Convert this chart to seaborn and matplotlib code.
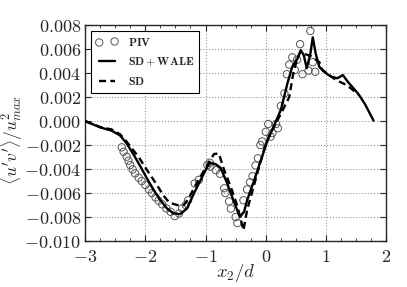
import numpy as np
import pandas as pd
import matplotlib
matplotlib.use('Agg')
import matplotlib.pyplot as plt
import seaborn as sns
from matplotlib.ticker import FuncFormatter, MultipleLocator

# SD + WALE (solid)
wale_x = [-3.0, -2.75, -2.56, -2.42, -2.31, -2.19, -2.08, -1.97, -1.86, -1.75, -1.64, -1.53,
          -1.42, -1.31, -1.19, -1.08, -0.97, -0.92, -0.83, -0.75, -0.64, -0.53, -0.43, -0.36,
          -0.31, -0.19, -0.08, 0.03, 0.11, 0.25, 0.36, 0.44, 0.53, 0.58, 0.63, 0.68, 0.74,
          0.78, 0.83, 0.89, 0.97, 1.08, 1.19, 1.28, 1.36, 1.53, 1.64, 1.79]
wale_y = [0.0, -0.00053, -0.0008, -0.0012, -0.00186, -0.00283, -0.0038, -0.0048, -0.00575,
          -0.0066, -0.00728, -0.0077, -0.00775, -0.0073, -0.006, -0.0049, -0.0038, -0.00348,
          -0.0036, -0.0039, -0.0052, -0.0067, -0.0080, -0.00755, -0.0066, -0.0049, -0.00325,
          -0.0016, -0.0007, 0.00092, 0.00314, 0.00453, 0.00522, 0.0059, 0.0055, 0.0044, 0.0056,
          0.00697, 0.0056, 0.0045, 0.0041, 0.0037, 0.00356, 0.00383, 0.00328, 0.0023, 0.00147,
          0.00003]

# SD (dashed)
sd_x = [-3.0, -2.75, -2.56, -2.42, -2.31, -2.11, -1.97, -1.81, -1.7, -1.6, -1.47, -1.36,
        -1.28, -1.15, -1.0, -0.86, -0.78, -0.69, -0.58, -0.47, -0.37, -0.31, -0.22, -0.11,
        0.0, 0.08, 0.25, 0.39, 0.45, 0.52, 0.58, 0.64, 0.75, 0.89, 0.94, 1.17, 1.3, 1.42, 1.53]
sd_y = [0.0, -0.0005, -0.0007, -0.0011, -0.00172, -0.003, -0.0041, -0.0053, -0.0062, -0.0068,
        -0.0070, -0.0070, -0.00644, -0.0052, -0.0039, -0.00275, -0.0027, -0.0041, -0.0055,
        -0.0071, -0.0091, -0.0074, -0.0058, -0.0038, -0.0019, -0.0010, 0.0006, 0.0020, 0.0038,
        0.0052, 0.0058, 0.0056, 0.0054, 0.0049, 0.00425, 0.0034, 0.0031, 0.0027, 0.0022]

# PIV (circles)
piv_x = [-2.39, -2.36, -2.31, -2.28, -2.25, -2.21, -2.17, -2.11, -2.06, -2.0, -1.94, -1.89,
         -1.83, -1.78, -1.72, -1.65, -1.58, -1.51, -1.44, -1.39, -1.33, -1.29, -1.18, -1.11,
         -0.97, -0.93, -0.92, -0.83, -0.76, -0.69, -0.67, -0.61, -0.58, -0.5, -0.47, -0.37,
         -0.31, -0.26, -0.22, -0.17, -0.13, -0.09, -0.06, 0.0, 0.04, 0.08, 0.11, 0.17, 0.2,
         0.25, 0.31, 0.35, 0.39, 0.44, 0.48, 0.52, 0.57, 0.61, 0.71, 0.74, 0.78, 0.82]
piv_y = [-0.00219, -0.00256, -0.00297, -0.0033, -0.00367, -0.00403, -0.00436, -0.00472, -0.005,
         -0.00533, -0.0057, -0.006, -0.00636, -0.00664, -0.00694, -0.00728, -0.00756, -0.00792,
         -0.0077, -0.00728, -0.0070, -0.0066, -0.0052, -0.0049, -0.00367, -0.00347, -0.0038,
         -0.0041, -0.0044, -0.0056, -0.0060, -0.0067, -0.0073, -0.0080, -0.0085, -0.0066,
         -0.0057, -0.0051, -0.0046, -0.0037, -0.0031, -0.0020, -0.0017, -0.0009, -0.00025,
         -0.0013, -0.0010, -0.00025, -0.0006, 0.00125, 0.0023, 0.0039, 0.0047, 0.0053, 0.00425,
         0.0051, 0.0064, 0.0039, 0.0042, 0.0075, 0.0049, 0.0041]

sns.set_style('ticks')
plt.rcParams['font.family'] = ['DejaVu Serif']
plt.rcParams['mathtext.fontset'] = 'cm'

fig = plt.figure(figsize=(4.07, 2.87), dpi=100)
ax = fig.add_axes([0.209, 0.160, 0.740, 0.753])

piv = pd.DataFrame({'x': piv_x, 'y': piv_y})
wale = pd.DataFrame({'x': wale_x, 'y': wale_y})
sd = pd.DataFrame({'x': sd_x, 'y': sd_y})

sns.scatterplot(data=piv, x='x', y='y', ax=ax, marker='o', s=28, facecolor='none',
                edgecolor='#555555', linewidth=0.7, label=r'$\mathbf{PIV}$', zorder=3)
sns.lineplot(data=wale, x='x', y='y', ax=ax, sort=False, color='black', linewidth=1.7,
             label=r'$\mathbf{SD}+\mathbf{WALE}$', zorder=4)
sns.lineplot(data=sd, x='x', y='y', ax=ax, sort=False, color='black', linewidth=1.7,
             linestyle=(0, (3, 1.8)), label=r'$\mathbf{SD}$', zorder=4)

ax.set_xlim(-3, 2)
ax.set_ylim(-0.010, 0.008)
ax.xaxis.set_major_locator(MultipleLocator(1))
ax.xaxis.set_minor_locator(MultipleLocator(0.25))
ax.yaxis.set_major_locator(MultipleLocator(0.002))
ax.xaxis.set_major_formatter(FuncFormatter(lambda v, p: r'$%d$' % round(v)))
ax.yaxis.set_major_formatter(FuncFormatter(lambda v, p: r'$%.3f$' % (0.0 if abs(v) < 1e-9 else v)))
ax.tick_params(which='both', direction='in', top=True, right=True, labelsize=13, pad=3)
ax.tick_params(axis='x', pad=5)
ax.tick_params(which='major', length=4, width=0.8)
ax.tick_params(which='minor', length=2, width=0.6)
ax.grid(True, which='major', linestyle=':', color='#999999', linewidth=0.8)
for s in ax.spines.values():
    s.set_linewidth(1.0)

ax.set_xlabel(r'$x_2/d$', fontsize=13.5)
ax.xaxis.set_label_coords(0.5, -0.095)
ax.set_ylabel(r"$\langle u'v'\rangle/u_{max}^2$", fontsize=12.5)
ax.yaxis.set_label_coords(-0.2, 0.47)

leg = ax.legend(loc='upper left', fontsize=8.5, numpoints=2, scatterpoints=2, fancybox=False,
                edgecolor='black', framealpha=1, borderaxespad=0.5, handlelength=1.9,
                labelspacing=0.55, borderpad=0.4, handletextpad=0.8)
leg.get_frame().set_linewidth(0.8)

fig.savefig('out.png', dpi=100)
